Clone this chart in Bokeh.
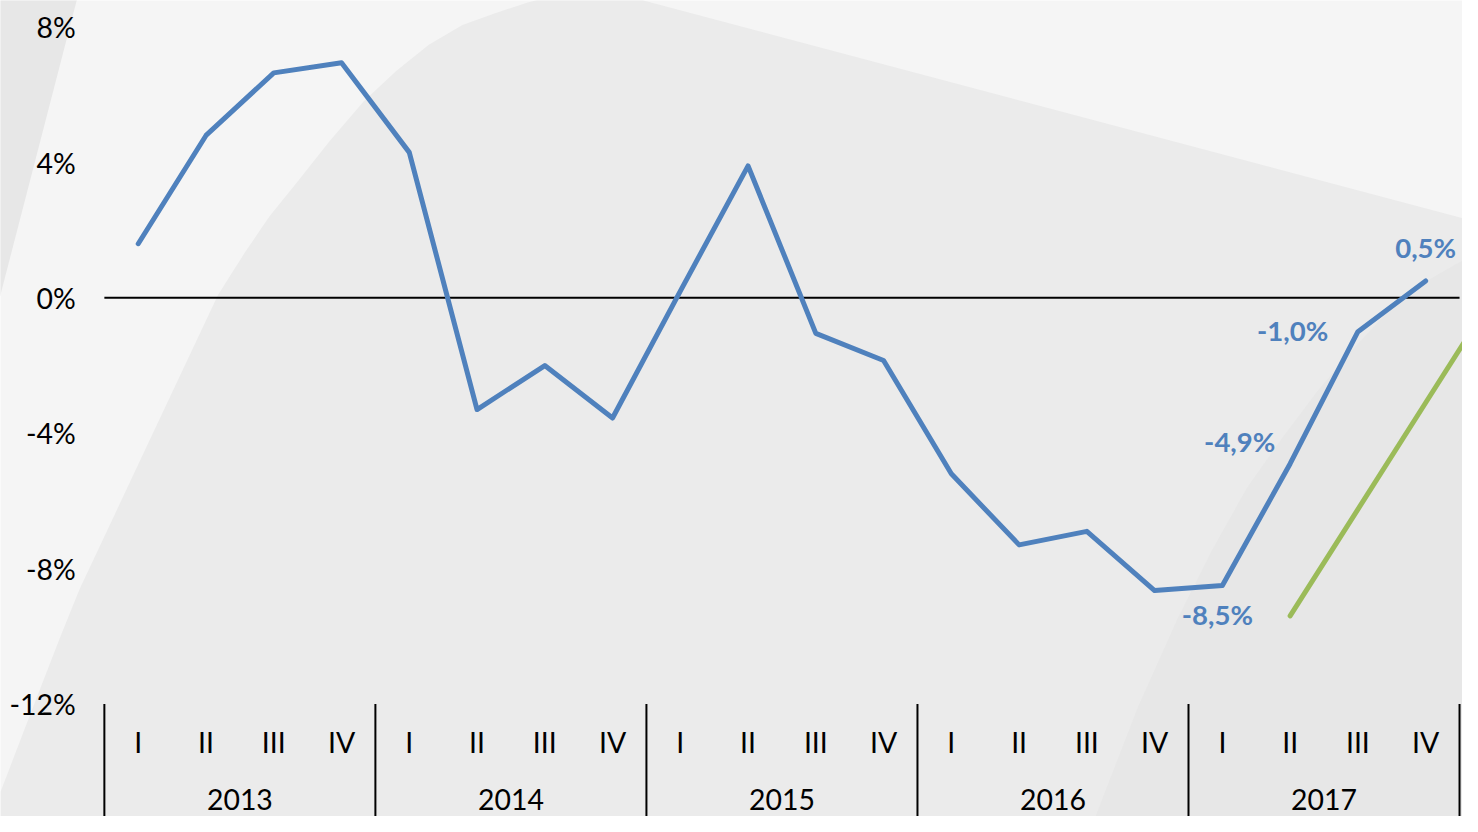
from bokeh.plotting import figure
from bokeh.models import Range1d, ColumnDataSource
from bokeh.core.properties import value
from bokeh.embed import file_html
from bokeh.resources import INLINE

# ---------------- data ----------------
years = ["2013", "2014", "2015", "2016", "2017"]
quarters = ["I", "II", "III", "IV"]
growth = [1.6, 4.8, 6.65, 6.95,
          4.3, -3.3, -2.0, -3.55,
          0.2, 3.9, -1.05, -1.85,
          -5.2, -7.3, -6.9, -8.65,
          -8.5, -4.9, -1.0, 0.5]
green_index = [17, 18, 19, 20]
green_vals = [-9.4, -6.25, -3.1, 0.05]
labelled_index = [16, 17, 18, 19]
y_ticks = [8, 4, 0, -4, -8, -12]

# ---------------- layout constants (reference pixel geometry) ----------------
PX0, QW = 105.0, 68.5        # pixel x of category start, width of a quarter
PY0, PPP = 303.2, 34.5       # pixel y of 0 %, pixels per 1 %
RW, RH = 1478, 832           # reference size
W, H = 1462, 816             # canvas size
SX, SY = W / RW, H / RH


def ux(px):
    return (px - PX0) / QW


def vy(py):
    return (PY0 - py) / PPP


def fs(px):
    return f"{px * min(SX, SY):.1f}px"


BLUE = "#4f81bd"
GREEN = "#9bbb59"
FONT = value("Lato")

p = figure(width=W, height=H, output_backend="svg", toolbar_location=None,
           x_range=Range1d(ux(0), ux(RW)),
           y_range=Range1d(vy(RH), vy(0)),
           min_border=0, min_border_left=0, min_border_right=0,
           min_border_top=0, min_border_bottom=0)
p.xaxis.visible = False
p.yaxis.visible = False
p.grid.visible = False
p.outline_line_color = None
p.background_fill_color = "#f5f5f5"
p.border_fill_color = "#f5f5f5"

# ---------------- decorative background shapes ----------------
big_shape = [(0, 840), (0, 807), (30, 728), (60, 650), (80, 600), (115, 525),
             (150, 450), (185, 375), (220, 300), (247, 257), (272, 220),
             (300, 185), (333, 143), (367, 103), (400, 72), (433, 45), (467, 25),
             (500, 13), (533, 2), (560, -5), (650, -5), (650, 0), (1490, 225),
             (1490, 840)]
left_wedge = [(-10, -10), (79, -10), (77, 0), (0, 300), (-10, 340)]
right_shape = [(1100, 840), (1107, 832), (1130, 772), (1150, 720), (1190, 630),
               (1225, 560), (1260, 497), (1295, 447), (1330, 400), (1365, 358),
               (1400, 320), (1440, 287), (1490, 258), (1490, 840)]
shapes = [(big_shape, "#ebebeb"), (left_wedge, "#e7e7e7"), (right_shape, "#e7e7e7")]
p.patches(xs=[[ux(a) for a, b in s] for s, c in shapes],
          ys=[[vy(b) for a, b in s] for s, c in shapes],
          fill_color=[c for s, c in shapes], line_color=None)

n = len(years) * len(quarters)
xc = [i + 0.5 for i in range(n)]

# zero line
p.line([0, n], [0, 0], line_color="black", line_width=2)

# category axis: separators and labels
bottom = min(y_ticks)
seps = list(range(0, n + 1, len(quarters)))
p.segment(x0=seps, y0=[bottom] * len(seps), x1=seps, y1=[bottom - 10] * len(seps),
          line_color="black", line_width=2)
p.text(x=xc, y=[bottom] * n, text=quarters * len(years), text_font=FONT,
       text_font_size=fs(29), text_color="black", text_align="center",
       text_baseline="middle", y_offset=39 * SY)
p.text(x=[len(quarters) * k + len(quarters) / 2 for k in range(len(years))],
       y=[bottom] * len(years), text=years, text_font=FONT, text_font_size=fs(29),
       text_color="black", text_align="center", text_baseline="middle",
       y_offset=97 * SY)

# value axis labels
p.text(x=[0] * len(y_ticks), y=y_ticks, text=[f"{t}%" for t in y_ticks],
       text_font=FONT, text_font_size=fs(29), text_color="black",
       text_align="right", text_baseline="middle", x_offset=-29 * SX)

# series
p.line([g + 0.5 for g in green_index], green_vals, line_color=GREEN, line_width=5,
       line_cap="round")
p.line(xc, growth, line_color=BLUE, line_width=5, line_join="round", line_cap="round")

# data labels
lab = ColumnDataSource(dict(
    x=[xc[i] for i in labelled_index],
    y=[growth[i] for i in labelled_index],
    t=[f"{growth[i]:.1f}".replace(".", ",") + "%" for i in labelled_index],
    dx=[d * SX for d in [-5, -51, -66, 0]],
    dy=[d * SY for d in [30, -23, -1, -34]],
))
p.text(x="x", y="y", text="t", source=lab, x_offset="dx", y_offset="dy",
       text_font=FONT, text_font_style="bold", text_font_size=fs(28),
       text_color=BLUE, text_align="center", text_baseline="middle")

open("out.html", "w").write(file_html(p, INLINE))
